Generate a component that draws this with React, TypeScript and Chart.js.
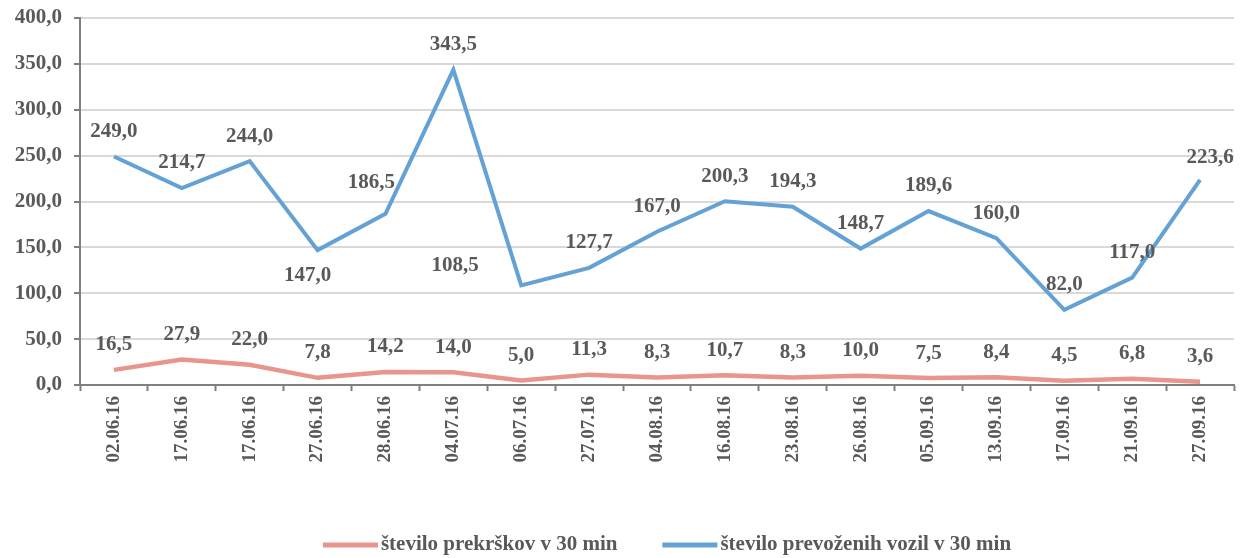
import React, { useEffect, useRef } from "react";
import { Chart, registerables } from "chart.js";

Chart.register(...registerables);

const categories = [
  "02.06.16", "17.06.16", "17.06.16", "27.06.16", "28.06.16", "04.07.16",
  "06.07.16", "27.07.16", "04.08.16", "16.08.16", "23.08.16", "26.08.16",
  "05.09.16", "13.09.16", "17.09.16", "21.09.16", "27.09.16",
];

const prekrski = [16.5, 27.9, 22.0, 7.8, 14.2, 14.0, 5.0, 11.3, 8.3, 10.7, 8.3, 10.0, 7.5, 8.4, 4.5, 6.8, 3.6];
const vozila = [249.0, 214.7, 244.0, 147.0, 186.5, 343.5, 108.5, 127.7, 167.0, 200.3, 194.3, 148.7, 189.6, 160.0, 82.0, 117.0, 223.6];

const seriesNames = ["število prekrškov v 30 min", "število prevoženih vozil v 30 min"];
const seriesColors = ["#E8958E", "#64A2D6"];

const redLabelPos = prekrski.map(() => "top");
const blueLabelPos = [
  "top", "top", "top", "bottom", "topLeft", "top", "left", "top", "top",
  "top", "top", "top", "top", "top", "top", "top", "topRight",
];

const yTicks = [0, 50, 100, 150, 200, 250, 300, 350, 400];

const FONT = "'Liberation Serif', 'Times New Roman', serif";
const TEXT = "#595959";

const fmt = (v: number) => v.toFixed(1).replace(".", ",");

const labelPlugin = {
  id: "valueLabels",
  afterDatasetsDraw(chart: any) {
    const ctx = chart.ctx;
    ctx.save();
    ctx.font = `bold 21px ${FONT}`;
    ctx.fillStyle = TEXT;
    ctx.textAlign = "center";
    ctx.textBaseline = "middle";
    const posArrays = [redLabelPos, blueLabelPos];
    chart.data.datasets.forEach((ds: any, i: number) => {
      const meta = chart.getDatasetMeta(i);
      meta.data.forEach((pt: any, j: number) => {
        const pos = posArrays[i][j];
        let dx = 0;
        let dy = -25;
        if (pos === "bottom") { dx = -10; dy = 25; }
        if (pos === "topLeft") { dx = -14; dy = -31; }
        if (pos === "topRight") { dx = 10; dy = -22; }
        if (pos === "left") { dx = -66; dy = -20; }
        ctx.fillText(fmt(ds.data[j]), pt.x + dx, pt.y + dy);
      });
    });
    ctx.restore();
  },
};

const legendPlugin = {
  id: "customLegend",
  afterDraw(chart: any) {
    const ctx = chart.ctx;
    const area = chart.chartArea;
    ctx.save();
    ctx.font = `bold 21px ${FONT}`;
    ctx.textBaseline = "middle";
    ctx.textAlign = "left";
    const swatch = 55;
    const gap = 3;
    const spacing = 45;
    const widths = seriesNames.map((n) => swatch + gap + ctx.measureText(n).width);
    const total = widths.reduce((a, b) => a + b, 0) + spacing * (widths.length - 1);
    let x = (area.left + area.right) / 2 + 10 - total / 2;
    const y = chart.height - 13;
    seriesNames.forEach((n, i) => {
      ctx.fillStyle = seriesColors[i];
      ctx.fillRect(x, y - 2.5, swatch, 5);
      ctx.fillStyle = TEXT;
      ctx.fillText(n, x + swatch + gap, y);
      x += widths[i] + spacing;
    });
    ctx.restore();
  },
};

export default function App() {
  const ref = useRef<HTMLCanvasElement>(null);
  useEffect(() => {
    if (!ref.current) return;
    const chart = new Chart(ref.current, {
      type: "line",
      data: {
        labels: categories,
        datasets: [
          {
            label: seriesNames[0],
            data: prekrski,
            borderColor: seriesColors[0],
            backgroundColor: seriesColors[0],
            borderWidth: 4.5,
            pointRadius: 0,
            tension: 0,
          },
          {
            label: seriesNames[1],
            data: vozila,
            borderColor: seriesColors[1],
            backgroundColor: seriesColors[1],
            borderWidth: 4,
            pointRadius: 0,
            tension: 0,
          },
        ],
      },
      options: {
        responsive: false,
        animation: false,
        layout: { padding: { top: 18, right: 9, bottom: 33, left: 0 } },
        scales: {
          x: {
            offset: true,
            grid: {
              offset: true,
              drawOnChartArea: false,
              drawTicks: true,
              tickLength: 6,
              tickColor: "#7f7f7f",
              tickWidth: 2,
            },
            border: { color: "#7f7f7f", width: 2 },
            ticks: {
              minRotation: 90,
              maxRotation: 90,
              autoSkip: false,
              padding: 5,
              color: TEXT,
              font: { family: FONT, size: 19, weight: "bold" },
            },
            afterFit: (s: any) => { s.height = 140; s.paddingLeft = 0; s.paddingRight = 0; },
          },
          y: {
            min: 0,
            max: 400,
            afterBuildTicks: (s: any) => { s.ticks = yTicks.map((v) => ({ value: v })); },
            grid: {
              color: "#d9d9d9",
              lineWidth: 2,
              drawTicks: true,
              tickLength: 6,
              tickColor: "#7f7f7f",
              tickWidth: 2,
            },
            border: { color: "#7f7f7f", width: 2 },
            ticks: {
              padding: 12,
              color: TEXT,
              font: { family: FONT, size: 21, weight: "bold" },
              callback: (v: any) => fmt(Number(v)),
            },
            afterFit: (s: any) => { s.width = 80; s.paddingTop = 0; s.paddingBottom = 0; },
          },
        },
        plugins: {
          legend: { display: false },
          tooltip: { enabled: false },
        },
      },
      plugins: [labelPlugin, legendPlugin],
    });
    return () => chart.destroy();
  }, []);
  return (
    <div style={{ position: "absolute", left: 0, top: 0, width: 1243, height: 558, background: "#fff" }}>
      <canvas ref={ref} width={1243} height={558} />
    </div>
  );
}
